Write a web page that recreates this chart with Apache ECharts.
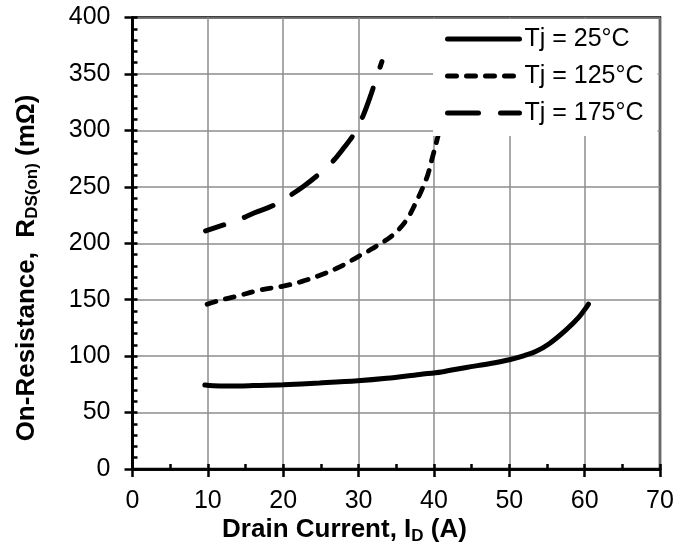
<!DOCTYPE html>
<html>
<head>
<meta charset="utf-8">
<script src="https://cdn.jsdelivr.net/npm/echarts@6/dist/echarts.min.js"></script>
<style>
html,body{margin:0;padding:0;background:#fff;}
#chart{width:689px;height:546px;}
</style>
</head>
<body>
<div id="chart"></div>
<script>
// ---- data ----
var seriesNames = ['Tj = 25°C', 'Tj = 125°C', 'Tj = 175°C'];
var xTicks = [0, 10, 20, 30, 40, 50, 60, 70];
var yTicks = [0, 50, 100, 150, 200, 250, 300, 350, 400];
var tj25 = [[9.6,74.4],[11.6,73.6],[14,73.6],[16,73.9],[20,74.7],[24.8,76.2],[29.9,78.1],[33.7,80.3],[38.1,83.8],[41,86],[44.3,90],[47.5,93.5],[50,96.8],[52,100.5],[53.5,104],[55.3,111],[57.5,123],[59.3,135],[60.5,146]];
var tj125 = [[9.9,146],[11.6,149.5],[13.8,153],[16.9,158.5],[20,162],[22.4,166],[24.8,171.5],[27.5,179],[29.9,188],[31.9,195.5],[34.5,207],[36.3,220],[37.6,236],[38.5,249],[39.2,261],[39.8,276],[40.5,294],[40.9,306]];
var tj175 = [[9.7,211],[11.5,215],[13.8,220],[16.2,227],[18.5,233],[20.6,241],[22.8,251],[24.7,261],[26.5,272],[28.1,285],[29.5,298],[30.6,313],[31.5,329],[32.3,345],[33.1,361]];

var FONT = "'Liberation Sans', Arial, Helvetica, sans-serif";
var chart = echarts.init(document.getElementById('chart'), null, {renderer: 'canvas'});

function mainAxis(min, max, interval, isX) {
  return {
    type: 'value', min: min, max: max, interval: interval,
    axisLine: {show: true, onZero: false, lineStyle: {color: '#000', width: 2.5}},
    axisTick: {show: true, inside: false, length: 8, lineStyle: {color: '#000', width: 2.5}},
    minorTick: {show: false},
    axisLabel: {color: '#000', fontSize: 25, fontFamily: FONT, margin: isX ? 20 : 22},
    splitLine: {show: true, lineStyle: {color: '#8c8c8c', width: 1.5}}
  };
}
function innerAxis(min, max, interval, minorSplit) {
  return {
    type: 'value', min: min, max: max, interval: interval,
    axisLine: {show: true, onZero: false, lineStyle: {color: '#000', width: 2.5}},
    axisTick: {show: true, inside: true, length: 5, lineStyle: {color: '#000', width: 2.5}},
    minorTick: {show: true, splitNumber: minorSplit, length: 5, lineStyle: {color: '#000', width: 2.5}},
    axisLabel: {show: false},
    splitLine: {show: false}
  };
}

var xMain = mainAxis(xTicks[0], xTicks[xTicks.length-1], xTicks[1]-xTicks[0], true);
var xInner = innerAxis(xTicks[0], xTicks[xTicks.length-1], xTicks[1]-xTicks[0], 2);
var yMain = mainAxis(yTicks[0], yTicks[yTicks.length-1], yTicks[1]-yTicks[0], false);
var yInner = innerAxis(yTicks[0], yTicks[yTicks.length-1], yTicks[1]-yTicks[0], 5);
xMain.position = 'bottom'; xInner.position = 'bottom';
yMain.position = 'left'; yInner.position = 'left';

var option = {
  backgroundColor: '#fff',
  animation: false,
  grid: {left: 132.5, right: 29, top: 17.5, bottom: 77, show: true, borderColor: '#000', borderWidth: 2.5, backgroundColor: 'transparent'},
  xAxis: [xMain, xInner],
  yAxis: [yMain, yInner],
  legend: {
    orient: 'vertical', left: 433, top: 19,
    padding: [5, 14, 8, 12],
    itemWidth: 72, itemHeight: 14, itemGap: 7,
    backgroundColor: '#fff',
    itemStyle: {color: 'transparent', borderColor: 'transparent', borderWidth: 0, opacity: 0},
    lineStyle: {width: 5, dashOffset: 0},
    textStyle: {color: '#000', fontSize: 25, fontFamily: FONT, lineHeight: 30},
    data: seriesNames
  },
  series: [
    {name: seriesNames[0], type: 'line', data: tj25, symbol: 'none', smooth: 0.35,
     lineStyle: {color: '#000', width: 5, type: 'solid', cap: 'round'}, itemStyle: {color: '#000'}},
    {name: seriesNames[1], type: 'line', data: tj125, symbol: 'none', smooth: 0.35,
     lineStyle: {color: '#000', width: 4.8, type: [9, 10], cap: 'round'}, itemStyle: {color: '#000'}},
    {name: seriesNames[2], type: 'line', data: tj175, symbol: 'none', smooth: 0.35,
     lineStyle: {color: '#000', width: 5, type: [31, 22], dashOffset: 12, cap: 'round'}, itemStyle: {color: '#000'}}
  ],
  graphic: [
    {type: 'text', left: 'center', top: 517, z: 10,
     style: {
       text: '{b|Drain Current, I}{s|D}{b| (A)}',
       rich: {
         b: {fontSize: 26, fontWeight: 'bold', fontFamily: FONT, fill: '#000'},
         s: {fontSize: 17, fontWeight: 'bold', fontFamily: FONT, fill: '#000', padding: [12, 0, 0, 0]}
       }
     }},
    {type: 'text', x: 12, y: 268, rotation: Math.PI / 2, z: 10,
     style: {
       text: '{b|On-Resistance,  R}{s|DS(on)}{b| (mΩ)}',
       align: 'center', verticalAlign: 'top',
       rich: {
         b: {fontSize: 26, fontWeight: 'bold', fontFamily: FONT, fill: '#000'},
         s: {fontSize: 17, fontWeight: 'bold', fontFamily: FONT, fill: '#000', padding: [12, 0, 0, 0]}
       }
     }}
  ]
};
chart.setOption(option);
</script>
</body>
</html>
